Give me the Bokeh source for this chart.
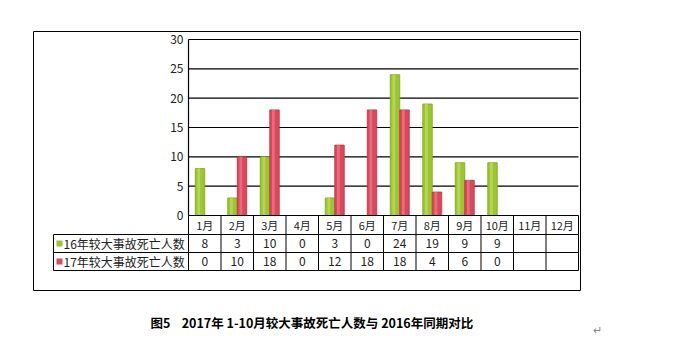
from bokeh.plotting import figure
from bokeh.models import Range1d
from bokeh.core.properties import value
from bokeh.embed import file_html
from bokeh.resources import INLINE

months = ["1月", "2月", "3月", "4月", "5月", "6月", "7月", "8月", "9月", "10月", "11月", "12月"]
deaths_2016 = [8, 3, 10, 0, 3, 0, 24, 19, 9, 9]
deaths_2017 = [0, 10, 18, 0, 12, 18, 18, 4, 6, 0]
series_names = ["16年较大事故死亡人数", "17年较大事故死亡人数"]
y_ticks = [0, 5, 10, 15, 20, 25, 30]
caption = "图5\u00a0\u00a0\u00a0 2017年\u00a01-10月较大事故死亡人数与\u00a02016年同期对比"

W, H = 674, 351
# plot area in pixels
PX0, PX1 = 188, 578
PY_TOP, PY_ZERO = 39, 215
ymax = 30
n = len(months)
ux = (PX1 - PX0) / n
uy = (PY_ZERO - PY_TOP) / ymax

def X(px):
    return (px - PX0) / ux

def Y(py):
    return (PY_ZERO - py) / uy

p = figure(width=W, height=H, output_backend="svg", toolbar_location=None,
           x_range=Range1d(X(0), X(W)), y_range=Range1d(Y(H), Y(0)),
           min_border=0, min_border_left=0, min_border_right=0,
           min_border_top=0, min_border_bottom=0)
p.axis.visible = False
p.grid.visible = False
p.outline_line_color = None
p.background_fill_color = "white"
p.border_fill_color = "white"

FONT = value("Noto Sans CJK SC")
GREEN, GREEN_D, GREEN_L = "#9cc533", "#7fa326", "#b3d84e"
RED, RED_D, RED_L = "#d9485c", "#b83447", "#e86a7b"

# outer box
p.quad(left=[X(33)], right=[X(580)], top=[Y(31)], bottom=[Y(290)],
       fill_color=None, line_color="black", line_width=1)

# gridlines
grid_y = [t for t in y_ticks if t > 0]
p.segment(x0=[0] * len(grid_y), x1=[n] * len(grid_y), y0=grid_y, y1=grid_y,
          line_color="black", line_width=1.2)
# vertical axis
p.segment(x0=[0], x1=[0], y0=[0], y1=[ymax], line_color="black", line_width=1.2)
# tick labels
p.text(x=[X(183)] * len(y_ticks), y=y_ticks, text=[str(t) for t in y_ticks],
       text_align="right", text_baseline="middle", text_font=FONT,
       text_font_size="12px", text_color="#222222")

# bars
bw = 9.5 / ux
gx = [i + 0.5 - bw / 2 for i in range(len(deaths_2016))]
rx = [i + 0.5 + bw / 2 for i in range(len(deaths_2017))]
p.vbar(x=gx, top=deaths_2016, width=bw, bottom=0, fill_color=GREEN, line_color=GREEN_D, line_width=0.8)
p.vbar(x=[v - bw * 0.12 for v in gx], top=deaths_2016, width=bw * 0.3, bottom=0,
       fill_color=GREEN_L, line_color=None)
p.vbar(x=rx, top=deaths_2017, width=bw, bottom=0, fill_color=RED, line_color=RED_D, line_width=0.8)
p.vbar(x=[v - bw * 0.12 for v in rx], top=deaths_2017, width=bw * 0.3, bottom=0,
       fill_color=RED_L, line_color=None)

# table
r0, r1, r2, r3 = Y(215), Y(234), Y(252), Y(270)
p.segment(x0=[0, X(53), X(53), X(53)], x1=[n, n, n, n], y0=[r0, r1, r2, r3], y1=[r0, r1, r2, r3],
          line_color="black", line_width=1.2)
vx = list(range(0, n + 1))
p.segment(x0=vx, x1=vx, y0=[r0] * len(vx), y1=[r3] * len(vx), line_color="black", line_width=1)
p.segment(x0=[X(53)], x1=[X(53)], y0=[r1], y1=[r3], line_color="black", line_width=1)

p.text(x=[i + 0.5 for i in range(n)], y=[(r0 + r1) / 2] * n, text=months,
       text_align="center", text_baseline="middle", text_font=FONT,
       text_font_size="11px", text_color="#222222")
p.text(x=[i + 0.5 for i in range(len(deaths_2016))], y=[(r1 + r2) / 2] * len(deaths_2016),
       text=[str(v) for v in deaths_2016], text_align="center", text_baseline="middle",
       text_font=FONT, text_font_size="12px", text_color="#222222")
p.text(x=[i + 0.5 for i in range(len(deaths_2017))], y=[(r2 + r3) / 2] * len(deaths_2017),
       text=[str(v) for v in deaths_2017], text_align="center", text_baseline="middle",
       text_font=FONT, text_font_size="12px", text_color="#222222")

# legend keys in row headers
p.quad(left=[X(56)] * 2, right=[X(62)] * 2,
       top=[(r1 + r2) / 2 + 3 / uy, (r2 + r3) / 2 + 3 / uy],
       bottom=[(r1 + r2) / 2 - 3 / uy, (r2 + r3) / 2 - 3 / uy],
       fill_color=[GREEN, RED], line_color=None)
p.text(x=[X(63)] * 2, y=[(r1 + r2) / 2, (r2 + r3) / 2], text=series_names,
       text_align="left", text_baseline="middle", text_font=FONT,
       text_font_size="12px", text_color="#222222")

# caption
p.text(x=[X(150)], y=[Y(322)], text=[caption], text_align="left", text_baseline="middle",
       text_font=FONT, text_font_size="12.5px", text_font_style="bold", text_color="black")
p.text(x=[X(592)], y=[Y(328)], text=["↵"], text_align="left", text_baseline="middle",
       text_font=FONT, text_font_size="11px", text_color="#888888")

open("out.html", "w").write(file_html(p, INLINE))
